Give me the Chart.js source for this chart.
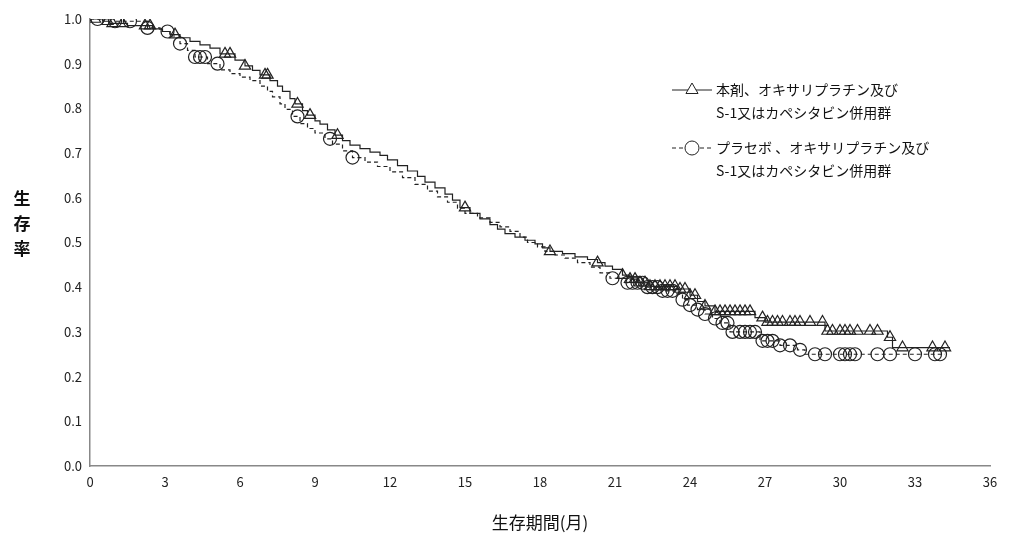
<!DOCTYPE html>
<html><head><meta charset="utf-8">
<script src="https://cdn.jsdelivr.net/npm/chart.js@4"></script>
<style>body{margin:0;background:#fff}#wrap{width:1009px;height:545px}</style>
</head><body><div id="wrap"><canvas id="km"></canvas></div>
<script>
// 本剤群（実線）の生存曲線：[月, 生存率]
const drugCurve = [[0,1],[0.5,0.995],[0.8,0.99],[1.5,0.985],[2.5,0.978],[2.9,0.972],[3.2,0.965],[3.6,0.958],[4,0.95],[4.4,0.942],[4.8,0.935],[5.2,0.922],[5.8,0.908],[6.2,0.895],[6.5,0.885],[6.8,0.875],[7.2,0.862],[7.5,0.85],[7.7,0.838],[8,0.822],[8.2,0.81],[8.5,0.795],[8.7,0.785],[9,0.772],[9.2,0.765],[9.5,0.752],[9.8,0.74],[10.1,0.728],[10.4,0.718],[10.8,0.71],[11.2,0.702],[11.6,0.695],[11.9,0.685],[12.3,0.672],[12.7,0.66],[13.1,0.648],[13.4,0.635],[13.8,0.622],[14.2,0.608],[14.5,0.595],[14.8,0.578],[15.2,0.565],[15.6,0.553],[16,0.54],[16.3,0.53],[16.6,0.52],[17,0.512],[17.4,0.505],[17.8,0.497],[18.1,0.488],[18.4,0.48],[18.9,0.475],[19.4,0.468],[19.9,0.462],[20.3,0.455],[20.6,0.447],[20.9,0.44],[21.3,0.427],[21.6,0.418],[21.9,0.41],[22.4,0.402],[23.5,0.396],[24,0.382],[24.3,0.368],[24.6,0.358],[25,0.346],[26.6,0.332],[27,0.322],[29.4,0.302],[31.9,0.288],[32.1,0.265],[34.4,0.265]];
// プラセボ群（破線）の生存曲線
const placeboCurve = [[0,1],[1,0.995],[2.3,0.98],[2.8,0.972],[3.2,0.962],[3.6,0.945],[3.9,0.93],[4.2,0.915],[4.7,0.9],[5.2,0.886],[5.6,0.878],[6,0.87],[6.4,0.862],[6.8,0.85],[7.1,0.838],[7.3,0.826],[7.6,0.81],[7.8,0.798],[8.1,0.782],[8.4,0.766],[8.7,0.755],[9,0.745],[9.4,0.732],[9.7,0.72],[10.1,0.705],[10.5,0.69],[11,0.68],[11.5,0.67],[12,0.658],[12.5,0.645],[13,0.63],[13.5,0.615],[13.9,0.602],[14.3,0.59],[14.7,0.577],[15,0.565],[15.5,0.555],[16,0.545],[16.4,0.535],[16.8,0.525],[17.2,0.512],[17.5,0.5],[17.9,0.49],[18.2,0.48],[18.6,0.472],[19,0.465],[19.5,0.455],[20,0.445],[20.4,0.432],[20.8,0.42],[21.4,0.41],[22.3,0.4],[22.9,0.392],[23.4,0.385],[23.7,0.372],[23.9,0.36],[24.3,0.35],[24.6,0.34],[24.9,0.33],[25.2,0.32],[25.6,0.3],[26.8,0.28],[27.6,0.27],[28.3,0.26],[28.6,0.25],[34.2,0.25]];
// 打ち切り（月）
const drugCensor = [0.2,0.7,0.9,1.3,2.2,2.4,3.4,5.4,5.6,6.2,7,7.1,8.3,8.8,9.9,15,18.4,20.3,21.3,21.6,21.8,22,22.2,22.4,22.6,22.8,23,23.2,23.4,23.6,23.8,24,24.2,24.6,25,25.2,25.4,25.6,25.8,26,26.2,26.4,26.9,27.1,27.3,27.5,27.7,28,28.2,28.4,28.8,29.3,29.5,29.7,30,30.2,30.4,30.7,31.2,31.5,32,32.5,33.7,34.2];
const placeboCensor = [0.3,1,1.6,2.3,3.1,3.6,4.2,4.4,4.6,5.1,8.3,9.6,10.5,20.9,21.5,21.7,21.9,22.1,22.3,22.5,22.7,22.9,23.1,23.3,23.7,24,24.3,24.6,25,25.3,25.5,25.7,26,26.2,26.4,26.6,26.9,27.1,27.3,27.6,28,28.4,29,29.4,30,30.2,30.4,30.6,31.5,32,33,33.8,34];
const xTicks = [0,3,6,9,12,15,18,21,24,27,30,33,36];
const legendLabels = [['本剤、オキサリプラチン及び','S-1又はカペシタビン併用群'],['プラセボ 、オキサリプラチン及び','S-1又はカペシタビン併用群']];

const FONT = '"Noto Sans CJK JP","Noto Sans",sans-serif';
const toXY = c => c.map(([x, y]) => ({x, y}));
const survAt = (curve, t) => { let s = curve[0][1]; for (const [x, y] of curve) { if (x <= t) s = y; } return s; };
const censorPts = (curve, ts) => ts.map(t => ({x: t, y: survAt(curve, t)}));

const labels = {
  id: 'labels',
  afterDraw(chart) {
    const c = chart.ctx, a = chart.chartArea;
    c.save();
    c.fillStyle = '#111';
    c.font = 'bold 17px ' + FONT;
    c.textAlign = 'center';
    ['生','存','率'].forEach((ch, i) => c.fillText(ch, 22, 205 + i * 25));
    c.font = '17px ' + FONT;
    c.fillText('生存期間(月)', (a.left + a.right) / 2, 529);
    // legend
    c.font = '14px ' + FONT;
    const rows = [{y: 90, dash: [], style: 'triangle'}, {y: 148, dash: [4, 3], style: 'circle'}];
    rows.forEach((r, i) => {
      c.strokeStyle = '#222'; c.lineWidth = 1; c.setLineDash(r.dash);
      c.beginPath(); c.moveTo(672, r.y); c.lineTo(712, r.y); c.stroke();
      c.setLineDash([]);
      c.fillStyle = '#fff';
      Chart.helpers.drawPoint(c, {pointStyle: r.style, radius: 7, borderWidth: 1.2}, 692, r.y);
      c.fillStyle = '#111';
      c.textAlign = 'left';
      c.fillText(legendLabels[i][0], 716, r.y + 5);
      c.fillText(legendLabels[i][1], 716, r.y + 28);
    });
    c.restore();
  }
};

new Chart(document.getElementById('km'), {
  type: 'scatter',
  data: {
    datasets: [
      {data: toXY(drugCurve), showLine: true, stepped: true, borderColor: '#222', borderWidth: 1.2, pointRadius: 0},
      {data: toXY(placeboCurve), showLine: true, stepped: true, borderColor: '#222', borderWidth: 1.2, borderDash: [4, 3], pointRadius: 0},
      {data: censorPts(drugCurve, drugCensor), pointStyle: 'triangle', pointRadius: 6.5, borderColor: '#222', borderWidth: 1.2, backgroundColor: 'rgba(0,0,0,0)'},
      {data: censorPts(placeboCurve, placeboCensor), pointStyle: 'circle', pointRadius: 6.5, borderColor: '#222', borderWidth: 1.2, backgroundColor: 'rgba(0,0,0,0)'}
    ]
  },
  options: {
    responsive: true, maintainAspectRatio: false, animation: false,
    layout: {padding: {top: 19, right: 19, left: 0, bottom: 0}},
    plugins: {legend: {display: false}, tooltip: {enabled: false}},
    scales: {
      x: {
        type: 'linear', min: 0, max: 36,
        afterBuildTicks: s => { s.ticks = xTicks.map(v => ({value: v})); },
        afterFit: s => { s.height = 79; },
        grid: {display: false, drawTicks: true, tickLength: 5, color: '#888'},
        border: {color: '#888', width: 1.5},
        ticks: {color: '#222', font: {size: 13, family: FONT}, maxRotation: 0}
      },
      y: {
        min: 0, max: 1,
        afterFit: s => { s.width = 90; },
        grid: {display: false, drawTicks: true, tickLength: 5, color: '#888'},
        border: {color: '#888', width: 1.5},
        ticks: {stepSize: 0.1, color: '#222', font: {size: 13, family: FONT}, callback: v => v.toFixed(1)}
      }
    }
  },
  plugins: [labels]
});
</script></body></html>
